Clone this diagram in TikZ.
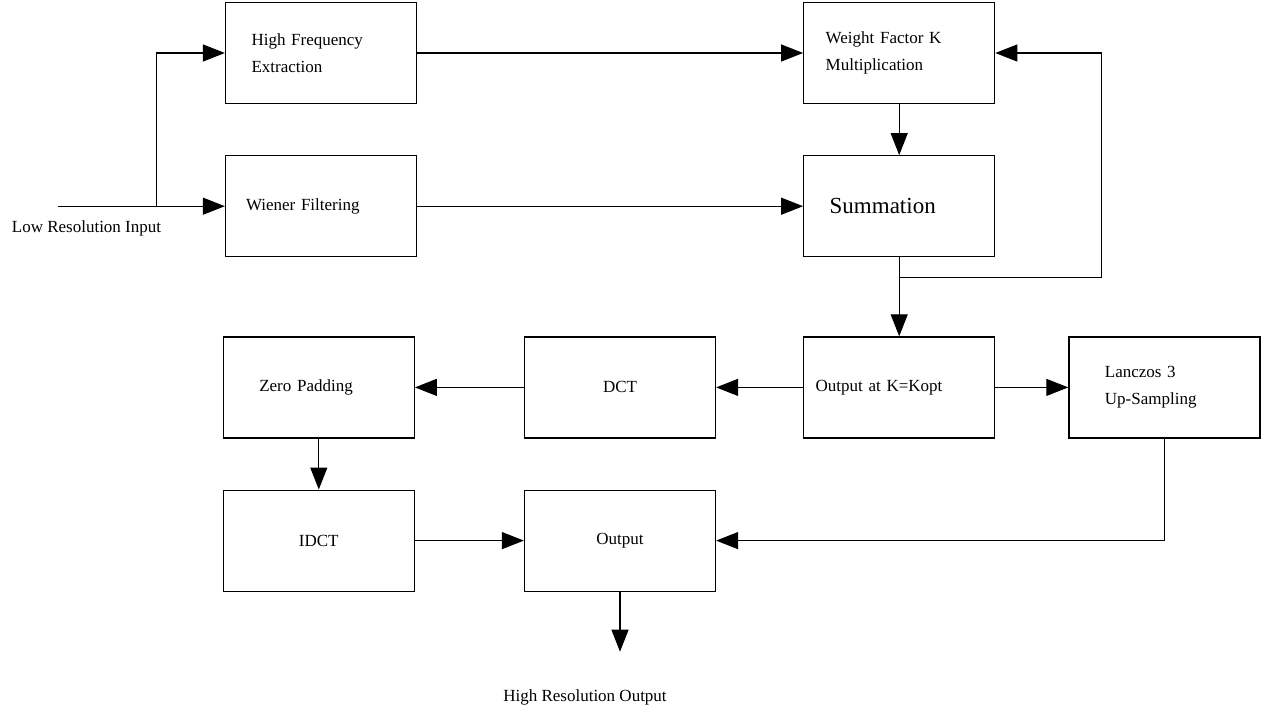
\documentclass[tikz,border=0pt]{standalone}
\usepackage{fontspec}
\setmainfont{Liberation Serif}
\usetikzlibrary{arrows.meta, positioning, calc}
\tikzset{
  block/.style = {rectangle, draw, line width=0.6pt, minimum width=95.5pt,
    minimum height=50.5pt, inner sep=0pt, text width=#1, align=left},
  block/.default = 69.5pt,
  cblock/.style = {block=80pt, align=center},
  arrow/.style = {line width=0.6pt, -{Triangle[length=11pt, width=8.5pt]}},
  line/.style  = {line width=0.6pt},
}
\begin{document}
\begin{tikzpicture}[x=0.5pt, y=-0.5pt, font=\fontsize{8.5}{13.5}\selectfont]
  \useasboundingbox (0,0) rectangle (1269,712);

  \node[block] (hfe) at (321,53) {High Frequency\\Extraction};
  \node[block=75pt, below=25.5pt of hfe] (wiener) {Wiener Filtering};
  \node[block=73.5pt, right=193pt of hfe] (weight) {Weight Factor K\\Multiplication};
  \node[block, below=25.5pt of weight, font=\fontsize{11.5}{14}\selectfont] (sum) {Summation};
  \node[block=83.5pt, below=39.5pt of sum] (outk) {Output at K=Kopt};
  \node[block=59.5pt, right=36.5pt of outk] (lanczos) {Lanczos 3\\Up-Sampling};
  \node[cblock, left=43.5pt of outk] (dct) {DCT};
  \node[block=59.5pt, left=54.5pt of dct] (zero) {Zero Padding};
  \node[cblock, below=25.5pt of zero] (idct) {IDCT};
  \node[cblock, below=25.5pt of dct] (output) {Output};

  % input and output ends
  \coordinate (lrin) at ($(wiener.west)+(-166.5,0)$);
  \coordinate (split) at ($(wiener.west)+(-68.5,0)$);
  \coordinate (fb) at ($(sum.south)+(0,20)$);
  \coordinate (hrout) at ($(output.south)+(0,60)$);
  \node (lrlabel) at (86.5,228) {Low Resolution Input};
  \node (hrlabel) at (585,697) {High Resolution Output};

  \draw[arrow] (lrin) -- (wiener.west);
  \draw[arrow] (split) |- (hfe.west);
  \draw[arrow] (hfe) -- (weight);
  \draw[arrow] (wiener) -- (sum);
  \draw[arrow] (weight) -- (sum);
  \draw[arrow] (sum) -- (outk);
  \draw[arrow] (fb) -- ++(202,0) |- (weight.east);
  \draw[arrow] (outk) -- (lanczos);
  \draw[arrow] (outk) -- (dct);
  \draw[arrow] (dct) -- (zero);
  \draw[arrow] (zero) -- (idct);
  \draw[arrow] (idct) -- (output);
  \draw[arrow] (lanczos.south) |- (output.east);
  \draw[arrow] (output) -- (hrout);
\end{tikzpicture}
\end{document}
